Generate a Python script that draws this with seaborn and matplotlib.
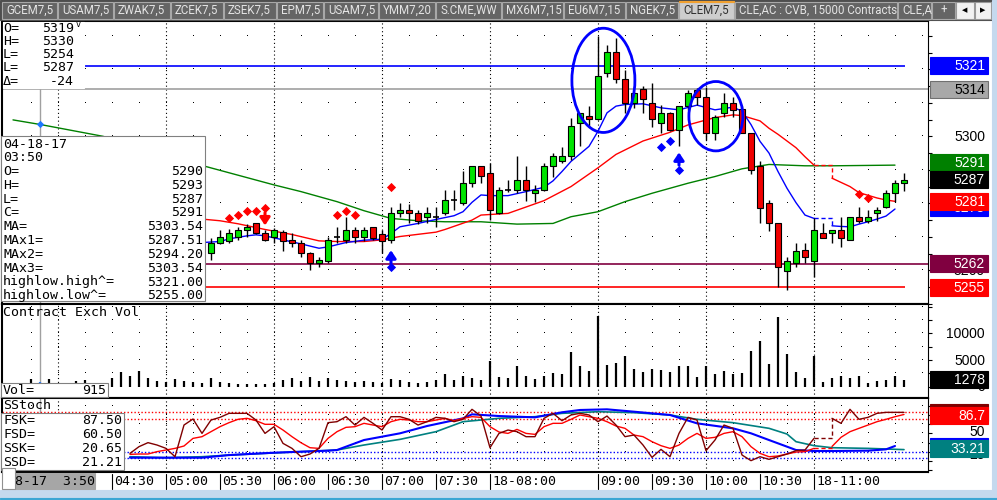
import numpy as np
import pandas as pd
import matplotlib
matplotlib.use("Agg")
import matplotlib.pyplot as plt
from matplotlib.patches import Rectangle, Ellipse
import seaborn as sns

W, H = 997, 500
nan = np.nan

# ---- data -------------------------------------------------------------
times = pd.date_range("2017-04-18 03:35", "2017-04-18 11:50", freq="5min").strftime("%H:%M").tolist()

opens = [nan, nan, nan, 5290] + [nan] * 18 + [
    5265.3, 5268.1, 5268.9, 5269.9, 5272.0, 5274.0, 5271.1, 5269.9, 5271.3, 5269.1,
    5268.1, 5265.1, 5262.3, 5262.9, 5269.9, 5269.1, 5272.0, 5269.9, 5272.8, 5270.9,
    5269.1, 5277.0, 5278.0, 5277.0, 5275.8, 5275.8, 5277.0, 5281.0, 5280.0, 5286.0,
    5291.0, 5289.0, 5277.0, 5283.9, 5284.0, 5287.0, 5283.0, 5284.0, 5291.0, 5292.7,
    5294.0, 5303.9, 5306.1, 5305.1, 5318.8, 5325.3, 5317.1, 5309.8, 5314.1, 5309.8,
    5303.9, 5306.9, 5301.9, 5308.9, 5313.8, 5311.8, 5300.9, 5306.9, 5309.9, 5308.1,
    5300.9, 5291.2, 5280.0, 5274.0, 5259.9, 5262.1, 5266.1, 5262.9, 5271.0, 5271.0,
    5272.0, 5269.1, 5275.8, 5274.8, 5277.0, 5278.8, 5283.0, 5286.0]
highs = [nan, nan, nan, 5293] + [nan] * 18 + [
    5269.6, 5272.0, 5272.3, 5273.0, 5273.8, 5274.2, 5272.0, 5272.5, 5272.0, 5271.1,
    5269.1, 5265.6, 5264.1, 5269.9, 5272.8, 5275.8, 5272.8, 5273.0, 5273.0, 5272.0,
    5278.8, 5280.2, 5279.8, 5278.0, 5278.8, 5278.8, 5284.0, 5284.0, 5289.7, 5291.0,
    5291.2, 5292.1, 5285.0, 5287.0, 5294.1, 5291.0, 5285.5, 5292.0, 5294.9, 5296.9,
    5305.4, 5306.9, 5308.9, 5330.0, 5327.1, 5329.3, 5319.8, 5313.3, 5315.1, 5315.8,
    5309.2, 5307.2, 5309.1, 5313.8, 5314.3, 5314.8, 5306.4, 5312.8, 5311.8, 5308.9,
    5300.9, 5292.6, 5281.0, 5274.0, 5264.1, 5268.1, 5268.1, 5275.7, 5274.0, 5272.0,
    5275.8, 5275.8, 5278.8, 5278.0, 5279.0, 5284.0, 5287.0, 5289.2]
lows = [nan, nan, nan, 5287] + [nan] * 18 + [
    5263.1, 5267.9, 5268.1, 5269.1, 5269.9, 5270.9, 5268.9, 5268.1, 5265.9, 5266.9,
    5263.9, 5260.1, 5260.9, 5262.1, 5268.3, 5268.1, 5268.1, 5268.9, 5269.1, 5265.1,
    5268.1, 5275.8, 5274.0, 5273.8, 5274.0, 5272.8, 5276.5, 5278.0, 5279.5, 5285.0,
    5286.0, 5275.0, 5276.8, 5283.5, 5283.0, 5280.8, 5280.5, 5283.8, 5288.0, 5292.0,
    5293.0, 5297.0, 5302.9, 5304.9, 5317.8, 5315.8, 5306.9, 5308.4, 5306.9, 5302.9,
    5300.9, 5301.6, 5297.0, 5308.0, 5309.4, 5298.9, 5298.9, 5305.9, 5305.9, 5300.9,
    5288.9, 5274.0, 5271.8, 5254.9, 5254.1, 5260.9, 5262.1, 5257.9, 5269.8, 5268.1,
    5266.9, 5269.1, 5274.0, 5274.0, 5274.8, 5278.5, 5280.5, 5283.8]
closes = [nan, nan, nan, 5291] + [nan] * 18 + [
    5268.1, 5269.9, 5271.1, 5272.0, 5272.8, 5271.1, 5269.1, 5272.0, 5268.9, 5268.1,
    5265.1, 5262.3, 5263.1, 5269.1, 5269.9, 5272.0, 5269.9, 5272.0, 5269.6, 5268.9,
    5277.0, 5278.0, 5277.0, 5274.8, 5277.0, 5275.8, 5281.0, 5281.0, 5286.0, 5291.0,
    5288.3, 5278.0, 5283.9, 5283.9, 5287.0, 5284.0, 5284.0, 5291.0, 5294.1, 5294.1,
    5303.1, 5306.9, 5305.1, 5318.0, 5325.3, 5317.1, 5309.8, 5312.8, 5311.1, 5305.1,
    5306.9, 5301.9, 5308.9, 5312.8, 5311.8, 5300.9, 5305.9, 5309.9, 5307.9, 5300.9,
    5289.9, 5278.7, 5274.0, 5260.9, 5262.9, 5265.9, 5263.9, 5272.0, 5269.8, 5272.0,
    5269.8, 5275.8, 5274.8, 5275.8, 5278.0, 5283.0, 5286.0, 5287.0]

volume = [nan, nan, 1400, 915, 1500, nan, nan, 1000, 1200, nan,
          nan, 1700, 2700, 2000, 2900, 1600, 1100, 900, 1400, 1100,
          900, 750, 1600, 900, 750, 600, 600, 500, 600, 750,
          1250, 1600, 1100, 1750, 1100, 1600, 1250, 1050, 900, 1000,
          900, 700, 1500, 1200, 900, 700, 900, 1200, 2300, 1300,
          2100, 1600, 1200, 4900, 1800, 1700, 3800, 2100, 1400, 2100,
          2600, 2300, 6500, 3800, 3000, 13200, 4100, 4500, 5700, 3400,
          2700, 3400, 3200, 2700, 3800, 3800, 1800, 3800, 2300, 2900,
          2300, 2500, 6700, 8600, 4300, 13000, 6100, 2700, 1600, 5700,
          850, 1600, 2100, 1600, 2100, 700, 1000, 1200, 2000, 1278]

ma_slow_t = ["03:35", "03:50", "04:25", "05:20", "06:00", "06:15", "06:35", "06:50", "07:05",
             "07:20", "07:35", "07:55", "08:15", "08:35", "08:45", "09:00", "09:15", "09:30",
             "09:50", "10:05", "10:20", "10:35", "10:55", "11:10", "11:45"]
ma_slow_v = [5304.9, 5303.54, 5300.0, 5291.3, 5285.5, 5283.5, 5280.5, 5277.8, 5275.5,
             5274.8, 5274.5, 5274.5, 5273.8, 5274.0, 5276.0, 5277.5, 5280.5, 5283.0,
             5286.0, 5288.0, 5290.3, 5291.6, 5291.2, 5291.2, 5291.4]

ma_fast_t = ["03:50", "05:20", "05:30", "05:35", "05:45", "05:50", "05:55", "06:05", "06:15",
             "06:25", "06:30", "06:40", "06:50", "07:00", "07:05", "07:10", "07:20", "07:30",
             "07:40", "07:45", "07:50", "07:55", "08:00", "08:10", "08:20", "08:30", "08:35",
             "08:40", "08:45", "08:55", "09:00", "09:05", "09:10", "09:15", "09:25", "09:35",
             "09:45", "09:55", "10:05", "10:15", "10:20", "10:25", "10:30", "10:35", "10:40",
             "10:45", "10:50", "10:55", "11:00", "11:05", "11:10", "11:15", "11:20", "11:25",
             "11:30", "11:35", "11:40", "11:45"]
ma_fast_v = [5287.51, 5268.3, 5268.6, 5269.4, 5270.3, 5270.6, 5270.3, 5269.1, 5267.9,
             5266.6, 5267.0, 5268.3, 5269.0, 5269.3, 5271.0, 5273.0, 5274.0, 5275.2,
             5276.3, 5277.5, 5280.3, 5282.5, 5282.3, 5282.3, 5283.5, 5284.8, 5286.7,
             5289.5, 5292.5, 5297.0, 5301.5, 5307.0, 5309.0, 5309.5, 5309.7, 5308.5,
             5307.9, 5309.3, 5307.9, 5308.7, 5307.5, 5303.5, 5298.5, 5295.0, 5289.5,
             5284.5, 5280.2, 5276.5, 5275.5, nan, 5273.3, 5273.1, 5273.0, 5273.8,
             5274.5, 5275.3, 5276.2, 5278.3]

ma_mid_t = ["03:50", "05:20", "05:30", "05:40", "05:55", "06:10", "06:25", "06:35", "06:50",
            "07:00", "07:10", "07:30", "07:35", "07:50", "07:55", "08:10", "08:30", "08:45",
            "09:00", "09:10", "09:25", "09:40", "09:50", "10:05", "10:15", "10:20", "10:30",
            "10:35", "10:40", "10:50", "10:55", "11:00", "11:05", "11:10", "11:20", "11:25",
            "11:35", "11:40", "11:45"]
ma_mid_v = [5294.2, 5275.3, 5274.8, 5273.9, 5272.2, 5270.7, 5268.8, 5268.6, 5268.6,
            5269.1, 5270.1, 5271.4, 5272.2, 5275.0, 5276.5, 5277.0, 5280.8, 5285.0,
            5290.6, 5294.6, 5298.6, 5301.2, 5303.4, 5305.6, 5306.4, 5306.2, 5304.6,
            5302.4, 5300.6, 5296.6, 5293.9, 5291.4, nan, 5287.5, 5285.0, 5283.2,
            5281.6, 5281.0, 5280.6]

fsk = [nan] * 13 + [
    27.5, 37.7, 43.8, 40.2, 35.1, 22.4, 70.6, 79.8, 57.9, 78.2,
    82.3, 88.4, 88.4, 88.4, 78.2, 57.9, 68.1, 42.7, 35.1, 22.4,
    26.5, 35.1, 74.2, 75.7, 83.3, 70.6, 82.3, 73.2, 63.0, 83.3,
    83.3, 79.3, 70.6, 75.7, 82.3, 80.8, 75.7, 79.3, 94.5, 84.3,
    36.1, 57.9, 63.0, 60.5, 52.9, 52.9, 80.8, 88.4, 77.2, 85.9,
    88.4, 85.9, 75.7, 84.3, 70.6, 52.9, 55.4, 40.2, 21.4, 33.6,
    22.4, 57.9, 82.3, 78.2, 31.6, 47.8, 70.6, 65.6, 25.0, 16.4,
    22.4, 18.4, 22.4, 26.5, 31.6, 32.6, 50.3, nan, 80.8, 73.2,
    94.5, 79.3, 82.3, 88.4, 89.9, 89.9, 89.9]
fsd = [nan] * 13 + [
    26.0, 26.5, 26.5, 30.1, 32.6, 35.1, 38.7, 50.3, 52.9, 60.5,
    68.1, 74.2, 79.3, 80.8, 77.2, 71.7, 71.7, 63.0, 52.9, 43.7,
    36.1, 35.1, 50.3, 60.5, 67.1, 68.1, 73.2, 70.6, 68.1, 75.7,
    79.3, 78.2, 75.7, 75.7, 78.2, 80.8, 77.2, 80.8, 83.3, 82.3,
    68.1, 60.0, 57.9, 64.0, 57.9, 56.4, 68.1, 73.2, 73.2, 79.3,
    85.9, 83.3, 80.8, 75.7, 69.1, 65.6, 55.4, 52.9, 45.3, 39.2,
    35.1, 40.2, 50.3, 57.9, 50.3, 51.9, 57.9, 60.5, 52.9, 37.7,
    27.5, 22.4, 23.5, 26.5, 29.5, 30.1, 35.1, nan, 38.0, 51.9,
    60.5, 65.6, 70.6, 75.7, 79.3, 83.3, 86.7]

ssk_t = ["04:40", "05:20", "05:35", "06:00", "06:30", "06:35", "06:50", "07:10", "07:25",
         "07:45", "07:50", "08:05", "08:25", "08:40", "08:50", "09:05", "09:20", "09:40",
         "09:55", "10:15", "10:25", "10:35", "10:45", "10:50", "11:00", "11:10", "11:30",
         "11:40", "11:45"]
ssk_v = [20.9, 20.9, 24.9, 28.5, 31.6, 32.6, 47.8, 58.0, 69.1,
         80.8, 86.9, 84.3, 82.3, 90.0, 93.5, 94.5, 90.9, 85.9,
         73.2, 65.6, 58.0, 47.8, 37.7, 32.6, 31.1, 31.1, 31.6,
         33.6, 38.7]
ssd_t = ["04:40", "05:00", "05:20", "05:35", "05:55", "06:15", "06:35", "06:50", "07:10",
         "07:30", "07:45", "08:05", "08:25", "08:40", "09:00", "09:20", "09:40", "09:55",
         "10:15", "10:35", "10:45", "10:50", "11:00", "11:10", "11:30", "11:50"]
ssd_v = [22.4, 20.9, 22.4, 24.9, 27.5, 30.1, 32.6, 40.2, 48.8,
         60.5, 75.7, 80.8, 83.3, 88.4, 90.9, 89.4, 85.9, 79.3,
         74.2, 65.6, 56.9, 45.3, 39.2, 36.1, 35.1, 33.21]

sell_dots_t = ["05:35", "05:40", "05:45", "05:50", "05:55", "06:35", "06:40", "06:45", "07:05", "11:25", "11:30"]
sell_dots_v = [5275.6, 5276.5, 5277.7, 5277.7, 5278.6, 5276.5, 5277.7, 5276.5, 5284.9, 5282.7, 5281.7]
buy_dots_t = ["07:05", "09:35", "09:40", "09:45"]
buy_dots_v = [5261.0, 5296.9, 5298.7, 5289.8]
sell_arrow_t, sell_arrow_v = ["05:55"], [5273.4]
buy_arrow_t, buy_arrow_v = ["07:05", "09:45"], [5266.0, 5295.2]

high_level, low_level, support, cursor_price = 5321, 5255, 5262, 5314
cursor_t = "03:50"
circles = [(65.6, 5316.7, 7.0, 31.1), (78.1, 5306.0, 6.0, 20.7)]

summary = [("O=", "5319"), ("H=", "5330"), ("L=", "5254"), ("L=", "5287"), ("Δ=", "-24")]
cursor_rows = [("04-18-17", ""), ("03:50", ""), ("O=", "5290"), ("H=", "5293"), ("L=", "5287"),
               ("C=", "5291"), ("MA=", "5303.54"), ("MAx1=", "5287.51"), ("MAx2=", "5294.20"),
               ("MAx3=", "5303.54"), ("highlow.high^=", "5321.00"), ("highlow.low^=", "5255.00")]
stoch_rows = [("FSK=", "87.50"), ("FSD=", "60.50"), ("SSK=", "20.65"), ("SSD=", "21.21")]
cursor_vol = 915

xtick_t = ["04:30", "05:00", "05:30", "06:00", "06:30", "07:00", "07:30", "08:00",
           "09:00", "09:30", "10:00", "10:30", "11:00"]
xtick_lab = ["04:30", "05:00", "05:30", "06:00", "06:30", "07:00", "07:30", "18-08:00",
             "09:00", "09:30", "10:00", "10:30", "18-11:00"]
hours = ["04:00", "05:00", "06:00", "07:00", "08:00", "09:00", "10:00", "11:00"]

tabs = ["GCEM7,5", "USAM7,5", "ZWAK7,5", "ZCEK7,5", "ZSEK7,5", "EPM7,5", "USAM7,5",
        "YMM7,20", "S.CME,WW", "MX6M7,15", "EU6M7,15", "NGEK7,5", "CLEM7,5",
        "CLE,AC : CVB, 15000 Contracts", "CLE,A", "+"]
tab_edges = [2, 58, 114, 171, 224, 277, 324, 379, 436, 502, 564, 626, 679, 735, 898, 932, 956]
active_tab = "CLEM7,5"

# ---- figure -----------------------------------------------------------
sns.set_style("white")
MONO = "DejaVu Sans Mono"
SANS = "Liberation Sans"
plt.rcParams["font.family"] = [MONO, "DejaVu Sans"]

pos = {t: i for i, t in enumerate(times)}
x = np.arange(len(times))

fig = plt.figure(figsize=(W / 100, H / 100), dpi=100)
fig.patch.set_facecolor("white")


def axes_px(x0, y0, x1, y1, **kw):
    return fig.add_axes([x0 / W, 1 - y1 / H, (x1 - x0) / W, (y1 - y0) / H], **kw)


ax_p = axes_px(2, 20.7, 928, 304)
ax_v = axes_px(2, 304, 928, 397.7)
ax_s = axes_px(2, 397.7, 928, 471.7)
XLIM = (-1.222, 101.667)
lims = {ax_p: (5249.96, 5334.5), ax_v: (-2060, 15520), ax_s: (-0.4, 112.2)}
yt = {ax_p: np.arange(5250, 5335, 5), ax_v: np.arange(0, 15001, 2500), ax_s: np.arange(2, 112, 14)}
dot_rows = {ax_p: np.arange(5260, 5331, 10), ax_v: np.arange(2500, 15001, 2500), ax_s: np.arange(16, 101, 14)}

for ax in (ax_p, ax_v, ax_s):
    ax.set_facecolor("white")
    for side, sp in ax.spines.items():
        sp.set_color("black")
        sp.set_linewidth({"left": 1.5, "top": 1.5, "bottom": 1.5, "right": 0.8}[side])
    ax.set_xticks([])
    ax.yaxis.tick_right()
    ax.set_yticks(yt[ax])
    ax.set_yticklabels([])
    ax.tick_params(axis="y", direction="out", length=3, width=0.8, colors="black", right=True, left=False)
    for hh in hours:
        ax.axvline(pos[hh], color="black", lw=0.8, ls=(0, (1, 2.5)), zorder=1)
    gx, gy = np.meshgrid(np.arange(2, 102, 3), dot_rows[ax])
    ax.plot(gx.ravel(), gy.ravel(), ",", color="black", zorder=1)
    ax.axvline(pos[cursor_t], color="#a0a0a0", lw=1, zorder=1.5)


def seg_line(ax, ts, vs, color, lw, z=2.5):
    xs = np.array([pos[t] for t in ts], float) if isinstance(ts[0], str) else np.asarray(ts, float)
    ys = np.asarray(vs, float)
    good = np.flatnonzero(~np.isnan(ys))
    groups = np.split(good, np.flatnonzero(np.diff(good) > 1) + 1)
    for g in groups:
        sns.lineplot(x=xs[g], y=ys[g], ax=ax, color=color, lw=lw, estimator=None, sort=False, zorder=z)
    for a, b in zip(groups[:-1], groups[1:]):
        ax.plot([xs[a[-1]], xs[b[0]], xs[b[0]]], [ys[a[-1]], ys[a[-1]], ys[b[0]]],
                color=color, lw=lw, ls=(0, (3, 2)), zorder=z)


# price panel
ax_p.axhline(cursor_price, color="#a0a0a0", lw=1.2, zorder=1.5)
ax_p.axhline(support, color="#800040", lw=1.2, zorder=1.5)
ax_p.hlines(high_level, XLIM[0], 99.1, color="#0000ff", lw=1.2, zorder=1.5)
ax_p.hlines(low_level, XLIM[0], 99.1, color="#ff0000", lw=1.2, zorder=1.5)

seg_line(ax_p, ma_slow_t, ma_slow_v, "#008000", 1.0)
seg_line(ax_p, ma_mid_t, ma_mid_v, "#ff0000", 1.0)
seg_line(ax_p, ma_fast_t, ma_fast_v, "#0000ff", 1.0)

o, hi, lo, c = (np.array(a, float) for a in (opens, highs, lows, closes))
ax_p.vlines(x, lo, hi, color="black", lw=1, zorder=3)
with np.errstate(invalid="ignore"):
    up, dn, dj = c > o, c < o, c == o
ax_p.bar(x[up], (c - o)[up], bottom=o[up], width=0.56, color="#00e400", edgecolor="black", lw=0.8, zorder=4)
ax_p.bar(x[dn], (o - c)[dn], bottom=c[dn], width=0.56, color="#f00000", edgecolor="black", lw=0.8, zorder=4)
ax_p.hlines(c[dj], x[dj] - 0.35, x[dj] + 0.35, color="black", lw=1.2, zorder=4)

sns.scatterplot(x=[pos[t] for t in sell_dots_t], y=sell_dots_v, marker="D", s=22, color="#ff0000",
                linewidth=0, ax=ax_p, zorder=5)
sns.scatterplot(x=[pos[t] for t in buy_dots_t], y=buy_dots_v, marker="D", s=22, color="#0000ff",
                linewidth=0, ax=ax_p, zorder=5)
sns.scatterplot(x=[pos[cursor_t]], y=[ma_slow_v[ma_slow_t.index(cursor_t)]], marker="D", s=14,
                color="#1e78ff", linewidth=0, ax=ax_p, zorder=5)
for t, v in zip(sell_arrow_t, sell_arrow_v):
    ax_p.annotate("", xy=(pos[t], v), xytext=(pos[t], v + 3.8),
                  arrowprops=dict(arrowstyle="-|>,head_width=0.3,head_length=0.45", color="#ff0000",
                                  lw=2.2, shrinkA=0, shrinkB=0), zorder=5)
for t, v in zip(buy_arrow_t, buy_arrow_v):
    ax_p.annotate("", xy=(pos[t], v), xytext=(pos[t], v - 3.8),
                  arrowprops=dict(arrowstyle="-|>,head_width=0.3,head_length=0.45", color="#0000ff",
                                  lw=2.2, shrinkA=0, shrinkB=0), zorder=5)
for cx, cy, ew, eh in circles:
    ax_p.add_patch(Ellipse((cx, cy), ew, eh, fill=False, edgecolor="#0000ff", lw=2, zorder=6))

# volume panel
vol = np.array(volume, float)
vcol = ["#1e78ff" if t == cursor_t else "black" for t in times]
ax_v.vlines(x, 0, vol, colors=vcol, lw=1.6, zorder=3)

# stochastic panel
for lvl, col in ((90, "#ff0000"), (80, "#ff0000"), (30, "#0000ff"), (20, "#0000ff")):
    ax_s.axhline(lvl, color=col, lw=1, ls=(0, (1, 1.5)), zorder=1.8)
seg_line(ax_s, ssd_t, ssd_v, "#008080", 1.2)
seg_line(ax_s, ssk_t, ssk_v, "#0000ff", 1.5)
seg_line(ax_s, x, fsd, "#ff0000", 1.0)
seg_line(ax_s, x, fsk, "#800000", 1.0)

for ax in (ax_p, ax_v, ax_s):
    ax.set_xlim(*XLIM)
    ax.set_ylim(*lims[ax])
    ax.set_xlabel("")
    ax.set_ylabel("")

# ---- overlay (chrome, boxes, labels in pixels) ------------------------
ov = axes_px(0, 0, W, H, zorder=10)
ov.set_xlim(0, W)
ov.set_ylim(H, 0)
ov.axis("off")
ov.patch.set_alpha(0)

# every overlay item gets a rising zorder so later boxes hide earlier text
_z = [1.0]


def nz():
    _z[0] += 0.01
    return _z[0]


def rect(x0, y0, x1, y1, fc, ec=None, lw=0.8):
    ov.add_patch(Rectangle((x0, y0), x1 - x0, y1 - y0, facecolor=fc, edgecolor=ec or fc, lw=lw, zorder=nz()))


def txt(xp, yp, s, size=9.5, family=MONO, color="black", ha="left", va="center", **kw):
    ov.text(xp, yp, s, fontsize=size, family=family, color=color, ha=ha, va=va, zorder=nz(), **kw)


def ypx(ax, v):
    return H - ax.transData.transform((0, v))[1]


def tag(ax, v, s, fc, tc="white", ec=None, dy=0.0):
    yp = ypx(ax, v) + dy
    rect(930, yp - 8.5, 988, yp + 8.5, fc, ec)
    txt(985, yp + 0.5, s, size=10, family=SANS, color=tc, ha="right")


# tab bar
rect(0, 0, W, 19.5, "#4e4e4e")
for name, x0, x1 in zip(tabs, tab_edges[:-1], tab_edges[1:]):
    on = name == active_tab
    rect(x0, 1.5, x1 - 1.5, 19, "#cdcdcd" if on else "#656565", "#a8a8a8")
    if on:
        rect(x0, 1, x1 - 1.5, 2, "#f0a030")
    ha, xp = ("center", (x0 + x1) / 2) if name == "+" else ("left", x0 + 4)
    txt(xp, 10, name, size=8.3, family="Roboto", color="#303030" if on else "#e4e4e4", ha=ha)
rect(956, 1.5, 973.5, 18.5, "#f2f2f2", "#9a9a9a")
rect(974.5, 1.5, 991, 18.5, "#f2f2f2", "#9a9a9a")
txt(964.8, 10, "◀", size=5, family="DejaVu Sans", ha="center")
txt(982.8, 10, "▶", size=5, family="DejaVu Sans", ha="center")
rect(992, 0, W, H, "#c5d9ee")
rect(0, 490, W, H, "#c5d9ee")
rect(0, 497.5, W, 499, "#3ca6d4")

# price panel labels
txt(985, ypx(ax_p, 5300) + 0.5, "5300", size=10, family=SANS, ha="right")
txt(985, ypx(ax_p, 5260) + 0.5, "5260", size=10, family=SANS, ha="right")
tag(ax_p, high_level, f"{high_level}", "#0000ff")
tag(ax_p, cursor_price, f"{cursor_price}", "#a8a8a8", "black", "#707070")
tag(ax_p, ma_slow_v[-1], f"{ma_slow_v[-1]:.0f}", "#008000", dy=-3)
tag(ax_p, closes[-1], f"{closes[-1]:.0f}", "black")
tag(ax_p, ma_fast_v[-1], f"{ma_fast_v[-1]:.0f}", "#0000ff", dy=-2)
tag(ax_p, ma_mid_v[-1], f"{ma_mid_v[-1]:.0f}", "#ff0000")
tag(ax_p, support, f"{support}", "#800040")
tag(ax_p, low_level, f"{low_level}", "#ff0000")

# volume labels
for v in (10000, 5000, 0):
    txt(985, ypx(ax_v, v) + 0.5, f"{v}", size=10, family=SANS, ha="right")
tag(ax_v, volume[-1], f"{volume[-1]}", "black")

# stoch labels
txt(985, ypx(ax_s, 50), "50", size=10, family=SANS, ha="right", va="bottom")
txt(985, ypx(ax_s, 25), "25", size=10, family=SANS, ha="right")
tag(ax_s, fsk[-1], f"{fsk[-1]:.1f}", "#800000")
tag(ax_s, fsd[-1], f"{fsd[-1]:.1f}", "#ff0000", dy=1.5)
tag(ax_s, ssk_v[-1], f"{ssk_v[-1]:.2f}", "#0000ff")
tag(ax_s, ssd_v[-1], f"{ssd_v[-1]:.2f}", "#008080", dy=-1.5)

# top-left summary
rect(2.5, 21.5, 84, 88, "white")
for k, (lab, val) in enumerate(summary):
    yp = 28 + 13.3 * k
    txt(3, yp, lab)
    txt(74, yp, val, ha="right")
txt(75.5, 24.5, "v", size=6)

# cursor data box
rect(0.5, 136, 205, 301, "white", "#808080")
for k, (lab, val) in enumerate(cursor_rows):
    yp = 144 + 13.8 * k
    txt(3, yp, lab)
    if val:
        txt(203, yp, val, ha="right")

# volume box
txt(3, 312, "Contract Exch Vol")
rect(0.5, 383, 108, 397, "white", "#808080")
txt(3, 390, "Vol=")
txt(106, 390, f"{cursor_vol}", ha="right")

# stoch box
txt(3, 405.5, "SStoch")
rect(0.5, 413, 124, 470, "white", "#808080")
for k, (lab, val) in enumerate(stoch_rows):
    yp = 420 + 14 * k
    txt(3, yp, lab)
    txt(122, yp, val, ha="right")

# time axis
for t, lab in zip(xtick_t, xtick_lab):
    xp = ax_s.transData.transform((pos[t], 0))[0]
    ov.plot([xp, xp], [474, 488.5], color="black", lw=0.8, zorder=nz())
    txt(xp + 2.5, 481.5, lab)
rect(15, 473, 95, 489, "#a6a6a6")
txt(15, 481.5, "8-17  3:50")
rect(2, 468, 15, 489, "white", "#909090")

fig.savefig("out.png", dpi=100, facecolor="white")
